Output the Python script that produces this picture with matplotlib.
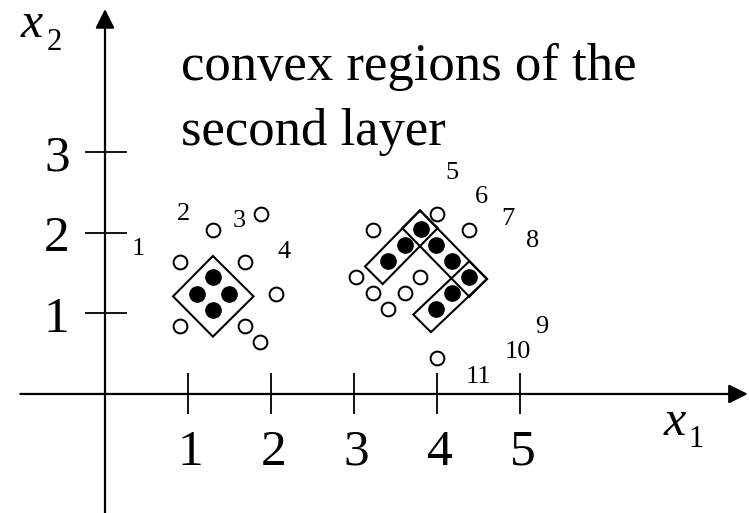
import matplotlib
matplotlib.use("Agg")
import matplotlib.pyplot as plt
from matplotlib.patches import Polygon

plt.rcParams['font.family'] = ['Liberation Serif', 'DejaVu Serif']

# ---- data ----
xticks = [1, 2, 3, 4, 5]
yticks = [1, 2, 3]
xtick_labels = ["1", "2", "3", "4", "5"]
ytick_labels = ["1", "2", "3"]

open_x = [1.30, 1.88, 0.90, 1.69, 2.06, 0.90, 1.69, 1.87,
          4.00, 3.23, 4.38, 3.03, 3.80, 3.23, 3.61, 3.41, 4.00]
open_y = [2.03, 2.23, 1.64, 1.64, 1.24, 0.84, 0.84, 0.65,
          2.23, 2.03, 2.03, 1.45, 1.45, 1.25, 1.25, 1.05, 0.44]

filled_x = [1.30, 1.11, 1.49, 1.30,
            3.81, 3.61, 3.41, 3.99, 4.18, 4.38, 4.18, 3.99]
filled_y = [1.45, 1.24, 1.24, 1.04,
            2.04, 1.85, 1.65, 1.85, 1.65, 1.45, 1.25, 1.05]

# convex regions (polygon vertices)
region_left_x = [1.30, 1.79, 1.30, 0.82]
region_left_y = [1.71, 1.21, 0.71, 1.21]
region_a_x = [3.795, 4.008, 3.346, 3.133]
region_a_y = [2.274, 2.055, 1.362, 1.580]
region_b_x = [3.795, 4.602, 4.389, 3.582]
region_b_y = [2.274, 1.425, 1.206, 2.055]
region_c_x = [4.389, 4.602, 3.927, 3.714]
region_c_y = [1.644, 1.425, 0.766, 0.984]

num_labels = ["1", "2", "3", "4", "5", "6", "7", "8", "9", "10", "11"]
num_x = [0.40, 0.95, 1.62, 2.16, 4.18, 4.54, 4.85, 5.15, 5.26, 4.98, 4.50]
num_y = [1.72, 2.16, 2.07, 1.68, 2.66, 2.37, 2.10, 1.82, 0.75, 0.44, 0.14]

title_lines = ["convex regions of the", "second layer"]

# ---- figure ----
fig = plt.figure(figsize=(7.49, 5.13), dpi=100)
ax = fig.add_axes([0, 0, 1, 1])
ax.set_xlim(-1.265, 7.759)
ax.set_ylim(-1.475, 4.882)
ax.axis('off')

# axes with arrows
arrow = dict(arrowstyle='-|>,head_length=0.58,head_width=0.29', mutation_scale=20,
             lw=1.6, color='black', shrinkA=0, shrinkB=0)
ax.annotate('', xy=(7.745, 0), xytext=(-1.02, 0), arrowprops=arrow)
ax.annotate('', xy=(0, 4.77), xytext=(0, -1.6), arrowprops=arrow)

# ticks
ax.vlines(xticks, -0.25, 0.26, color='black', lw=1.3)
ax.hlines(yticks, -0.24, 0.265, color='black', lw=1.3)
for t, lab in zip(xticks, xtick_labels):
    ax.text(t + 0.03, -0.88, lab, fontsize=37, ha='center', va='baseline')
for t, lab in zip(yticks, ytick_labels):
    ax.text(-0.58, t - 0.23, lab, fontsize=37, ha='center', va='baseline')

# axis labels
ax.text(-1.02, 4.42, 'x', fontsize=36, fontstyle='italic', ha='left', va='baseline')
ax.text(-0.70, 4.26, '2', fontsize=22, ha='left', va='baseline')
ax.text(6.73, -0.51, 'x', fontsize=36, fontstyle='italic', ha='left', va='baseline')
ax.text(7.03, -0.66, '1', fontsize=22, ha='left', va='baseline')

# title
ax.text(0.91, 3.89, title_lines[0], fontsize=38, ha='left', va='baseline')
ax.text(0.91, 3.085, title_lines[1], fontsize=38, ha='left', va='baseline')

# regions
for rx, ry in [(region_left_x, region_left_y), (region_a_x, region_a_y),
               (region_b_x, region_b_y), (region_c_x, region_c_y)]:
    ax.add_patch(Polygon(list(zip(rx, ry)), closed=True, fill=False,
                         edgecolor='black', lw=1.5, zorder=2))

# points
ax.plot(open_x, open_y, 'o', ms=9.9, mfc='white', mec='black', mew=1.45, zorder=3)
ax.plot(filled_x, filled_y, 'o', ms=12, mfc='black', mec='black', mew=0, zorder=3)

# number labels
for lab, x, y in zip(num_labels, num_x, num_y):
    ax.text(x, y, lab, fontsize=19, ha='center', va='baseline')

fig.savefig('out.png', dpi=100)
